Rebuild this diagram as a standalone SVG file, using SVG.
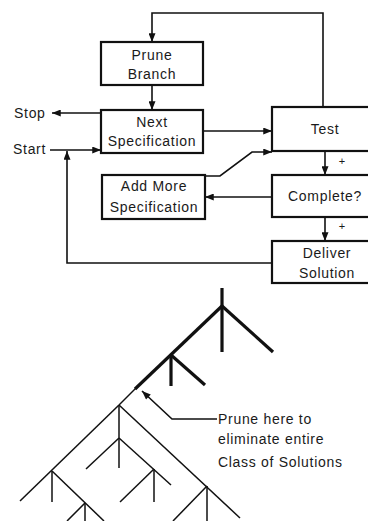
<svg xmlns="http://www.w3.org/2000/svg" width="368" height="521" viewBox="0 0 368 521">
<style>
.box{fill:#fff;stroke:#111;stroke-width:2.2}
.t{font-family:"Liberation Sans",Arial,sans-serif;font-size:14px;letter-spacing:0.7px;fill:#1a1a1a}
.c{text-anchor:middle}
.ln{fill:none;stroke:#111;stroke-width:1.6}
.thick{fill:none;stroke:#111;stroke-width:3.2;stroke-linecap:butt}
.thin{fill:none;stroke:#111;stroke-width:1.5}
.plus{font-family:"Liberation Sans",Arial,sans-serif;font-size:11px;fill:#1a1a1a;text-anchor:middle}
</style>
<defs>
<marker id="ah" viewBox="0 0 10 8" refX="10" refY="4" markerWidth="10" markerHeight="7" markerUnits="userSpaceOnUse" orient="auto">
<path d="M0,0 L10,4 L0,8 Z" fill="#111"/>
</marker>
</defs>
<g id="connectors">
<polyline class="ln" points="323,107 323,13 152,13 152,42" marker-end="url(#ah)"/>
<line class="ln" x1="152" y1="85" x2="152" y2="110" marker-end="url(#ah)"/>
<line class="ln" x1="101" y1="113" x2="52" y2="113" marker-end="url(#ah)"/>
<line class="ln" x1="50" y1="150" x2="101" y2="150" marker-end="url(#ah)"/>
<polyline class="ln" points="273,263 67,263 67,151" marker-end="url(#ah)"/>
<line class="ln" x1="203" y1="131" x2="272" y2="131" marker-end="url(#ah)"/>
<polyline class="ln" points="205,176 220,176 252,152 272,152" marker-end="url(#ah)"/>
<line class="ln" x1="272" y1="197" x2="205" y2="197" marker-end="url(#ah)"/>
<line class="ln" x1="325" y1="151" x2="325" y2="175" marker-end="url(#ah)"/>
<line class="ln" x1="325" y1="217" x2="325" y2="241" marker-end="url(#ah)"/>
<text class="plus" x="342" y="165">+</text>
<text class="plus" x="342" y="230">+</text>
</g>
<g id="prune-branch">
<rect class="box" x="101" y="42" width="102" height="43"/>
<text class="t c" x="152" y="60">Prune</text>
<text class="t c" x="152" y="79">Branch</text>
</g>
<g id="next-specification">
<rect class="box" x="101" y="110" width="102" height="43"/>
<text class="t c" x="152" y="127">Next</text>
<text class="t c" x="152" y="146">Specification</text>
</g>
<g id="stop"><text class="t" x="14" y="118">Stop</text></g>
<g id="start"><text class="t" x="13" y="154">Start</text></g>
<g id="add-more-specification">
<rect class="box" x="102" y="175" width="103" height="44"/>
<text class="t c" x="154" y="191">Add More</text>
<text class="t c" x="154" y="212">Specification</text>
</g>
<g id="test">
<rect class="box" x="272" y="107" width="120" height="44"/>
<text class="t c" x="325" y="134">Test</text>
</g>
<g id="complete">
<rect class="box" x="272" y="175" width="120" height="42"/>
<text class="t c" x="325" y="201">Complete?</text>
</g>
<g id="deliver-solution">
<rect class="box" x="272" y="241" width="120" height="42"/>
<text class="t c" x="327" y="258">Deliver</text>
<text class="t c" x="327" y="278">Solution</text>
</g>
<g id="tree">
<line class="thick" x1="222" y1="288" x2="222" y2="352"/>
<line class="thick" x1="222" y1="306" x2="273" y2="352"/>
<line class="thick" x1="222" y1="306" x2="135" y2="389"/>
<line class="thick" x1="171" y1="355" x2="171" y2="386"/>
<line class="thick" x1="171" y1="355" x2="205" y2="385"/>
<line class="thin" x1="136" y1="388" x2="119" y2="405"/>
<line class="thin" x1="119" y1="405" x2="20" y2="501"/>
<line class="thin" x1="119" y1="405" x2="119" y2="468"/>
<line class="thin" x1="119" y1="405" x2="240" y2="518"/>
<line class="thin" x1="119" y1="438" x2="86" y2="469"/>
<line class="thin" x1="119" y1="438" x2="171" y2="485"/>
<line class="thin" x1="154" y1="469" x2="154" y2="502"/>
<line class="thin" x1="154" y1="469" x2="120" y2="502"/>
<line class="thin" x1="52" y1="471" x2="52" y2="502"/>
<line class="thin" x1="52" y1="471" x2="104" y2="521"/>
<line class="thin" x1="85" y1="503" x2="85" y2="521"/>
<line class="thin" x1="85" y1="503" x2="67" y2="521"/>
<line class="thin" x1="207" y1="486" x2="207" y2="521"/>
<line class="thin" x1="207" y1="486" x2="173" y2="521"/>
</g>
<g id="prune-note">
<polyline class="ln" points="217,419 172,419 142,391" marker-end="url(#ah)"/>
<text class="t" x="218" y="424">Prune here to</text>
<text class="t" x="218" y="444">eliminate entire</text>
<text class="t" x="218" y="467">Class of Solutions</text>
</g>
</svg>
